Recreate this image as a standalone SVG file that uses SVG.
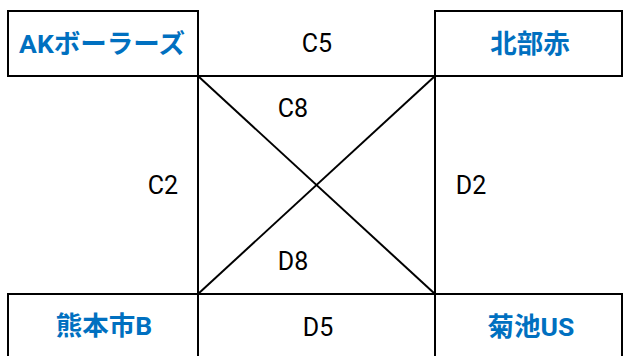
<svg xmlns="http://www.w3.org/2000/svg" width="624" height="356" viewBox="0 0 624 356">
<style>
.box{fill:#fff;stroke:#000;stroke-width:2}
.ln{stroke:#000;stroke-width:2;fill:none}
.team{font-family:Roboto,"Noto Sans CJK JP",sans-serif;font-weight:bold;font-size:26.5px;fill:#0070C0;text-anchor:middle}
.lbl{font-family:Roboto,"Liberation Sans",sans-serif;font-size:25px;fill:#000;text-anchor:middle}
</style>
<rect width="624" height="356" fill="#fff"/>
<g id="connectors">
<line class="ln" x1="198" y1="76" x2="435" y2="76"/>
<line class="ln" x1="198" y1="294" x2="435" y2="294"/>
<line class="ln" x1="198" y1="11" x2="198" y2="356"/>
<line class="ln" x1="435" y1="11" x2="435" y2="356"/>
<line class="ln" x1="198" y1="76" x2="435" y2="294"/>
<line class="ln" x1="435" y1="76" x2="198" y2="294"/>
<text class="lbl" x="317" y="52">C5</text>
<text class="lbl" x="293" y="117">C8</text>
<text class="lbl" x="163" y="194">C2</text>
<text class="lbl" x="471" y="194">D2</text>
<text class="lbl" x="293" y="270">D8</text>
<text class="lbl" x="318" y="336">D5</text>
</g>
<g id="node-ak">
<rect class="box" x="8" y="11" width="190" height="65"/>
<text class="team" x="102" y="53">AKボーラーズ</text>
</g>
<g id="node-hokubu">
<rect class="box" x="435" y="11" width="187" height="65"/>
<text class="team" x="530" y="53">北部赤</text>
</g>
<g id="node-kumamoto">
<rect class="box" x="8" y="294" width="190" height="70"/>
<text class="team" x="104" y="335">熊本市B</text>
</g>
<g id="node-kikuchi">
<rect class="box" x="435" y="294" width="187" height="70"/>
<text class="team" x="531" y="336">菊池US</text>
</g>
</svg>
